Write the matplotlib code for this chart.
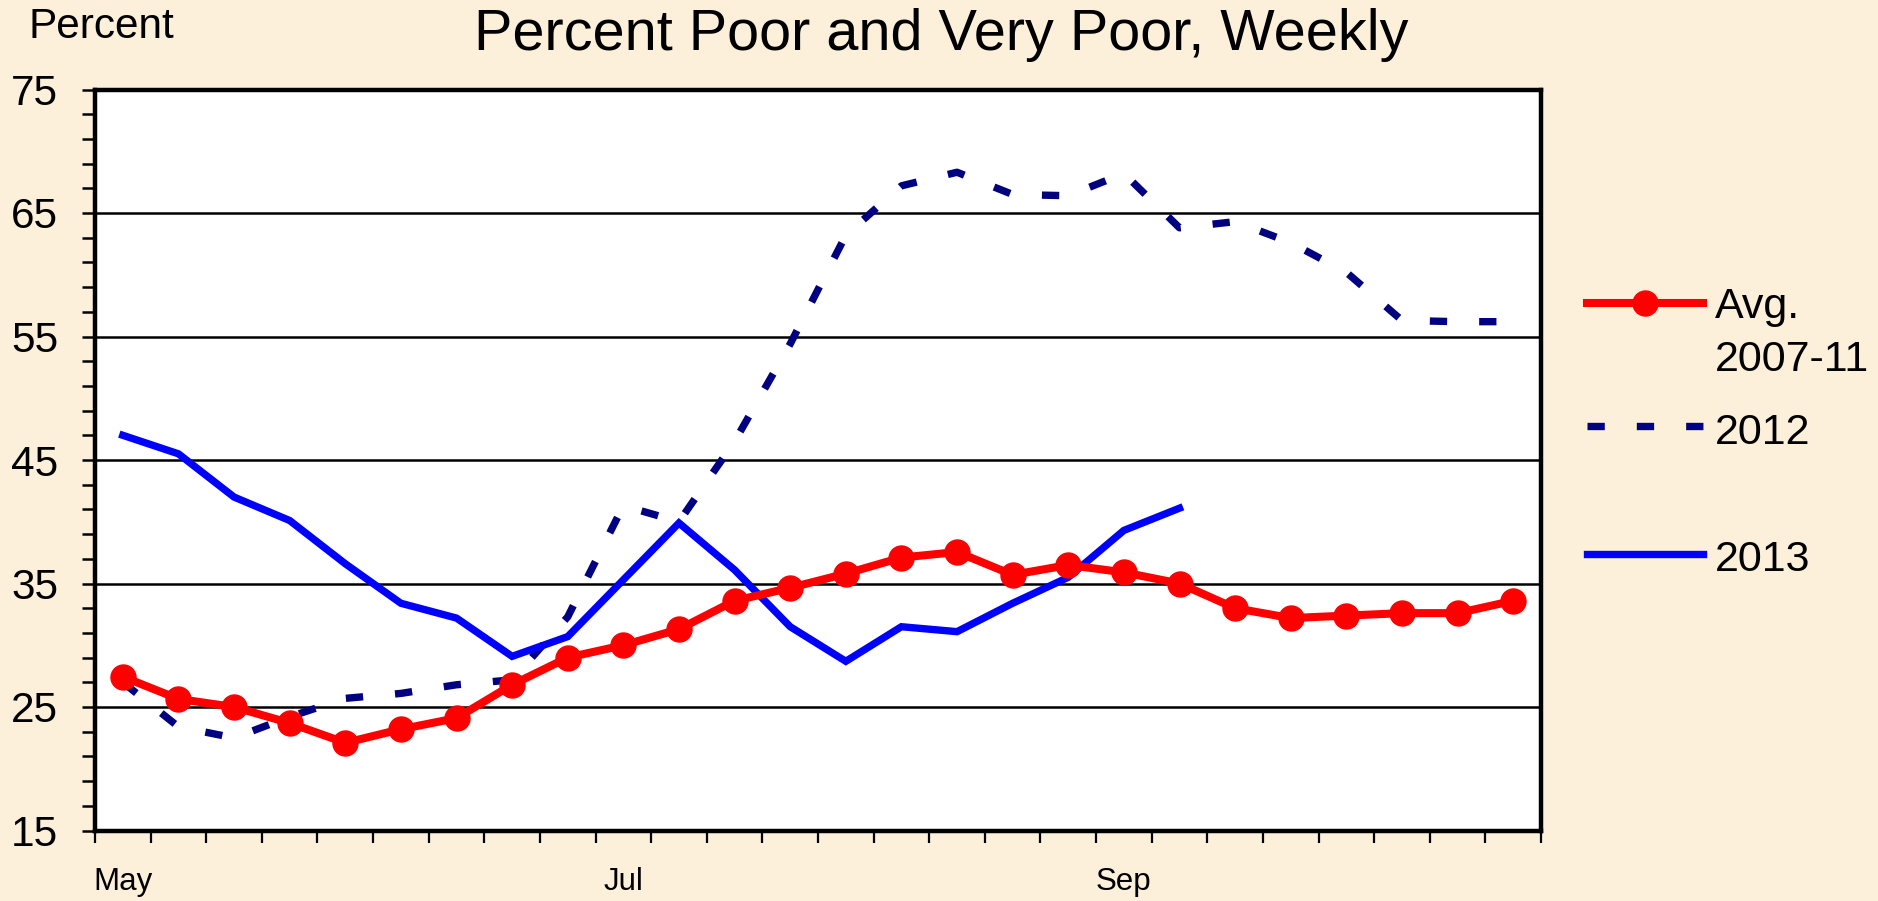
import matplotlib
matplotlib.use("Agg")
import matplotlib.pyplot as plt
from matplotlib.lines import Line2D
import numpy as np

plt.rcParams['font.family'] = ['Liberation Sans', 'DejaVu Sans']

# ---- data ----
month_labels = ["May", "Jul", "Sep"]
month_positions = [0, 9, 18]
avg_2007_11 = [27.45, 25.65, 25.0, 23.7, 22.1, 23.2, 24.1, 26.8, 29.0, 30.0, 31.3, 33.6, 34.65,
               35.8, 37.1, 37.55, 35.7, 36.5, 35.9, 35.0, 33.0, 32.2, 32.4, 32.6, 32.6, 33.6]
y2012 = [27.0, 23.4, 22.5, 24.2, 25.7, 26.1, 26.8, 27.2, 32.3, 41.3, 40.0, 46.5, 54.4,
         63.2, 67.2, 68.3, 66.5, 66.4, 68.2, 63.8, 64.3, 62.6, 60.2, 56.3, 56.2, 56.2]
y2013 = [47.0, 45.5, 42.0, 40.1, 36.6, 33.4, 32.2, 29.1, 30.7, 35.3, 39.9, 36.1, 31.5,
         28.7, 31.5, 31.1, 33.4, 35.5, 39.3, 41.1]
series_labels = ["Avg.\n2007-11", "2012", "2013"]
yticks = [15, 25, 35, 45, 55, 65, 75]

W, H = 1878, 901
bg = '#FCF0DA'
fig = plt.figure(figsize=(W / 100, H / 100), dpi=100, facecolor=bg)
ax = fig.add_axes([95 / W, 1 - 830.5 / H, (1541 - 95) / W, (830.5 - 89.5) / H])
ax.set_facecolor('white')

red_style = dict(color='#FF0000', lw=5.8, marker='o', ms=18, mec='#FF0000', mfc='#FF0000',
                 solid_joinstyle='miter')
d12_style = dict(color='#000080', lw=5.3, linestyle=(0, (2.35, 4.35)), dash_capstyle='butt')
d13_style = dict(color='#0000FF', lw=5.3, solid_joinstyle='miter')

ax.plot(np.arange(len(y2012)), y2012, zorder=3, **d12_style)
ax.plot(np.arange(len(y2013)), y2013, zorder=4, **d13_style)
ax.plot(np.arange(len(avg_2007_11)), avg_2007_11, zorder=5, **red_style)

ax.set_xlim(-0.5, 25.5)
ax.set_ylim(15, 75)

# y axis
ax.set_yticks(yticks)
ax.set_yticklabels([str(v) for v in yticks])
ax.set_yticks(np.arange(15, 76, 2), minor=True)
ax.tick_params(axis='y', which='both', direction='out', length=9.4, width=1.8, color='black',
               labelsize=30.5, pad=17)
ax.grid(axis='y', which='major', color='black', lw=1.8, zorder=1)

# x axis: tick marks between categories, labels under categories
ax.set_xticks(np.arange(-0.5, 26, 1))
ax.set_xticklabels([])
ax.set_xticks(month_positions, minor=True)
ax.set_xticklabels(month_labels, minor=True)
ax.tick_params(axis='x', which='major', direction='out', length=8.6, width=1.6, color='black')
ax.tick_params(axis='x', which='minor', length=0, labelsize=22.5, pad=26.5)

for s in ax.spines.values():
    s.set_linewidth(3.2)
    s.set_color('black')
    s.set_zorder(6)

# titles
fig.text(941 / W, 1 - 50 / H, "Percent Poor and Very Poor, Weekly", ha='center', va='baseline',
         fontsize=41.5)
fig.text(29 / W, 1 - 38 / H, "Percent", ha='left', va='baseline', fontsize=30.5)

# legend (drawn manually)
def fx(x):
    return x / W

def fy(y):
    return 1 - y / H

tf = fig.transFigure
l1 = Line2D([fx(1587), fx(1645), fx(1703)], [fy(302.7)] * 3, transform=tf, markevery=[1], **red_style)
l2 = Line2D([fx(1587), fx(1703)], [fy(426)] * 2, transform=tf, **d12_style)
l3 = Line2D([fx(1587), fx(1703)], [fy(554)] * 2, transform=tf, **d13_style)
for l in (l1, l2, l3):
    fig.add_artist(l)
first, second = series_labels[0].split("\n")
fig.text(fx(1715), fy(318), first, fontsize=31, va='baseline', ha='left')
fig.text(fx(1715), fy(370.7), second, fontsize=31, va='baseline', ha='left')
fig.text(fx(1715), fy(444), series_labels[1], fontsize=31, va='baseline', ha='left')
fig.text(fx(1715), fy(570.7), series_labels[2], fontsize=31, va='baseline', ha='left')

fig.savefig("out.png", dpi=100, facecolor=bg)
